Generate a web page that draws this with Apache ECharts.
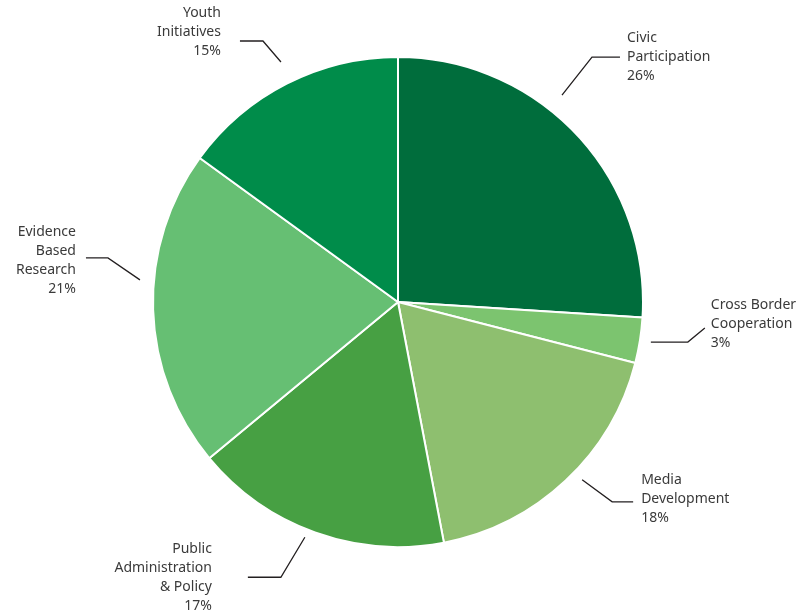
<!DOCTYPE html>
<html>
<head>
<meta charset="utf-8">
<script src="https://cdn.jsdelivr.net/npm/echarts@6/dist/echarts.min.js"></script>
<style>html,body{margin:0;padding:0;background:#fff}#c{width:806px;height:615px}</style>
</head>
<body>
<div id="c"></div>
<script>
// ---- data ----
var categories = ['Civic\nParticipation', 'Cross Border\nCooperation', 'Media\nDevelopment', 'Public\nAdministration\n& Policy', 'Evidence\nBased\nResearch', 'Youth\nInitiatives'];
var values = [26, 3, 18, 17, 21, 15];
var colors = ['#006d3c', '#7cc46f', '#8ebf6f', '#47a043', '#66bf73', '#008c4a'];

// ---- layout (leader-line styling, not data) ----
var CX = 398, CY = 302, R = 245;
// per slice: [angle nudge deg, start radius, bend dx, bend dy, horizontal length, text gap, text dy, diagonal-last]
var leaders = [
  [-8.4, 264, 30, -38, 28, 7, 0, false],
  [0, 256, 37, 0, 17, 6, -4, true],
  [-2.8, 256, 30, 22, 21, 8, -3, false],
  [1.8, 253, -24, 40, -33, 36, 0, false],
  [6.7, 259, -32, -22, -22, 10, 3, false],
  [1, 267, -18, -21, -23, 19, -9, false]
];

var total = values.reduce(function (a, b) { return a + b; }, 0);
var midAngles = [];
(function () {
  var acc = 0;
  values.forEach(function (v) { midAngles.push((acc + v / 2) / total * 360); acc += v; });
})();

var chart = echarts.init(document.getElementById('c'));
chart.setOption({
  animation: false,
  series: [{
    type: 'pie',
    center: [CX, CY],
    radius: [0, R],
    startAngle: 90,
    clockwise: true,
    silent: true,
    data: categories.map(function (c, i) {
      return { name: c, value: values[i], itemStyle: { color: colors[i] } };
    }),
    itemStyle: { borderColor: '#fff', borderWidth: 2 },
    label: {
      show: true,
      position: 'outside',
      overflow: 'none',
      formatter: function (p) { return p.name + '\n' + p.value + '%'; },
      fontFamily: 'Noto Sans',
      fontSize: 14,
      lineHeight: 19,
      color: '#3a3a3a'
    },
    labelLine: {
      show: true,
      length: 30,
      length2: 25,
      lineStyle: { color: '#231f20', width: 1.3 }
    },
    labelLayout: function (p) {
      var i = p.dataIndex, L = leaders[i];
      var th = (midAngles[i] + L[0]) * Math.PI / 180;
      var s = [CX + L[1] * Math.sin(th), CY - L[1] * Math.cos(th)];
      var b, e;
      if (L[7]) {
        b = [s[0] + L[2], s[1]];
        e = [b[0] + L[4], b[1] - 14];
      } else {
        b = [s[0] + L[2], s[1] + L[3]];
        e = [b[0] + L[4], b[1]];
      }
      var right = e[0] >= b[0];
      return {
        x: right ? e[0] + L[5] : e[0] - L[5],
        y: e[1] + L[6] - p.labelRect.height / 2,
        align: right ? 'left' : 'right',
        verticalAlign: 'top',
        labelLinePoints: [s, b, e]
      };
    }
  }]
});
</script>
</body>
</html>
